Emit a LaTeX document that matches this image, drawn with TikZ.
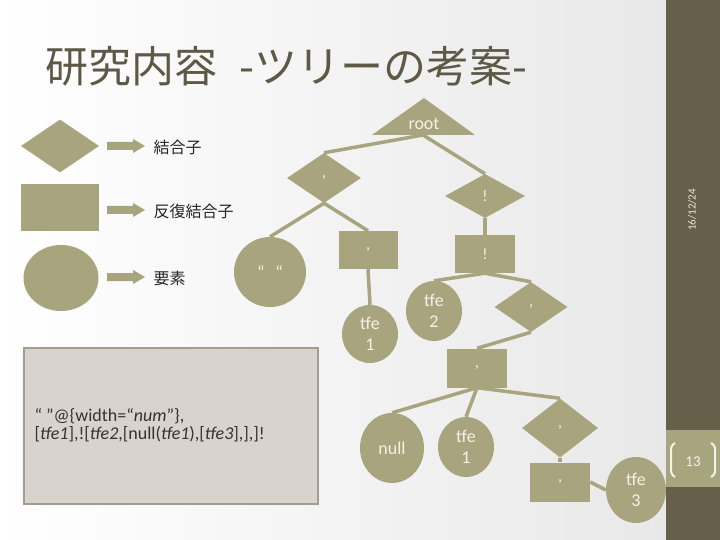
\documentclass[tikz,border=0pt]{standalone}
\usepackage{fontspec}
\setmainfont{Carlito}
\newfontfamily\jpfont{Noto Sans CJK JP}
\usepackage{tikz}
\usetikzlibrary{shapes.geometric}
\definecolor{tkhaki}{HTML}{A8A47E}
\definecolor{tdark}{HTML}{665F4A}
\definecolor{ttitle}{HTML}{5E5946}
\definecolor{tcream}{HTML}{F4F2E8}
\definecolor{tbox}{HTML}{D9D3CD}
\definecolor{tboxline}{HTML}{A39C8F}
\newcommand{\legarrow}[1]{% y of the arrow axis
  \fill[tkhaki] (107,#1-4) -- (133,#1-4) -- (133,#1-7) -- (145,#1)
    -- (133,#1+7) -- (133,#1+4) -- (107,#1+4) -- cycle;}
\tikzset{
  joint/.style={diamond, fill=tkhaki, inner sep=0pt, text=tcream,
                font=\fontsize{16}{18}\selectfont, minimum width=76pt, minimum height=52pt},
  loopjoint/.style={rectangle, fill=tkhaki, inner sep=0pt, text=tcream,
                font=\fontsize{16}{18}\selectfont, minimum width=60pt, minimum height=38pt},
  elem/.style={ellipse, fill=tkhaki, inner sep=0pt, text=tcream, align=center,
                font=\fontsize{18}{21}\selectfont, minimum width=56pt, minimum height=58pt},
  link/.style={draw=tkhaki, line width=3.5pt},
  legtext/.style={anchor=west, font=\jpfont\fontsize{16}{18}\selectfont, text=black!85},
}
\begin{document}
\begin{tikzpicture}[x=1pt, y=-1pt]
    \useasboundingbox (0,0) rectangle (720,540);
    \shade[left color=white, right color=black!9] (0,0) rectangle (666,540);
    \fill[tdark] (666,0) rectangle (720,540);

    % --- side bar ---------------------------------------------------------
    \node[rotate=90, text=tcream!90!tkhaki, font=\fontsize{11}{11}\selectfont] (date) at (692,210) {16/12/24};
    \fill[tkhaki] (666,430) rectangle (720,487);
    \node[text=tcream, font=\fontsize{15}{15}\selectfont] (pagenum) at (693,462) {13};
    \draw[tcream, line width=2pt, rounded corners=2pt] (675,443) -- (671,446) -- (671,474) -- (675,477);
    \draw[tcream, line width=2pt, rounded corners=2pt] (711,443) -- (715,446) -- (715,474) -- (711,477);

    % --- title ------------------------------------------------------------
    \node[anchor=west, text=ttitle, font=\jpfont\fontsize{43}{43}\selectfont] (title) at (42,66)
      {研究内容\hspace{22pt}-ツリーの考案-};

    % --- legend -----------------------------------------------------------
    \node[joint, minimum width=78pt, minimum height=53pt] (legj) at (60,146) {};
    \node[loopjoint, minimum width=78pt, minimum height=47pt] (legl) at (60,207.5) {};
    \node[elem, minimum width=75pt, minimum height=66pt] (lege) at (61,278) {};
    \legarrow{146}
    \legarrow{210}
    \legarrow{277}
    \node[legtext] (legjt) at (150,147) {結合子};
    \node[legtext] (leglt) at (150,211) {反復結合子};
    \node[legtext] (leget) at (150,278) {要素};

    % --- source text ------------------------------------------------------
    \node[draw=tboxline, fill=tbox, line width=1.5pt, minimum width=294pt, minimum height=156pt] (src) at (171,426) {};
    \node[anchor=west, align=left, text=black!80, font=\fontsize{18}{17.5}\selectfont] (srctext) at (31,425)
      {“ ”@\{width=“\textit{num}”\},\\
       {[}\textit{tfe1}],![\textit{tfe2},[null(\textit{tfe1}),[\textit{tfe3}],],]!};

    % --- tree -------------------------------------------------------------
    \fill[tkhaki] (424,98) -- (475,135) -- (372,135) -- cycle;
    \node[text=tcream, font=\fontsize{18}{18}\selectfont] (root) at (424,124) {root};
    \coordinate (rootb) at (423,135);

    \node[joint, minimum width=74pt, minimum height=50pt] (seqa) at (324,178) {,};
    \node[joint, minimum width=80pt, minimum height=44pt] (repa) at (485,196) {!};
    \node[elem, minimum width=72pt, minimum height=70pt] (quote) at (270,272) {“\hspace{0.6em}“};
    \node[loopjoint, minimum width=59pt] (seqb) at (368,250) {,};
    \node[elem] (tfea) at (370,334) {tfe\\1};
    \node[loopjoint] (repb) at (485,254) {!};
    \node[elem, minimum height=60pt] (tfeb) at (434,311) {tfe\\2};
    \node[joint, minimum width=73pt, minimum height=50pt] (seqc) at (531,307) {,};
    \node[loopjoint, minimum height=39pt] (seqd) at (477,368) {,};
    \node[elem, minimum width=64pt, minimum height=70pt] (null) at (392,448) {null};
    \node[elem, minimum height=60pt] (tfec) at (466,447) {tfe\\1};
    \node[joint, minimum height=59pt] (seqe) at (560,428) {,};
    \node[loopjoint, minimum height=39pt] (seqf) at (560,482) {,};
    \node[elem, minimum width=60pt, minimum height=66pt] (tfed) at (636,490) {tfe\\3};

    \draw[link] (rootb) -- (seqa.north);
    \draw[link] (rootb) -- (repa.north);
    \draw[link] (seqa.south) -- (quote.north);
    \draw[link] (seqa.south) -- (seqb.north);
    \draw[link] (seqb.south) -- (tfea.north);
    \draw[link] (repa.south) -- (repb.north);
    \draw[link] (repb.south) -- (tfeb.north);
    \draw[link] (repb.south) -- (seqc.north);
    \draw[link] (seqc.south) -- (seqd.north);
    \draw[link] (seqd.south) -- (null.north);
    \draw[link] (seqd.south) -- (tfec.north);
    \draw[link] (seqd.south) -- (seqe.north);
    \draw[link] (seqe.south) -- (seqf.north);
    \draw[link] (seqf.east) -- (tfed.west);
  \end{tikzpicture}
\end{document}
